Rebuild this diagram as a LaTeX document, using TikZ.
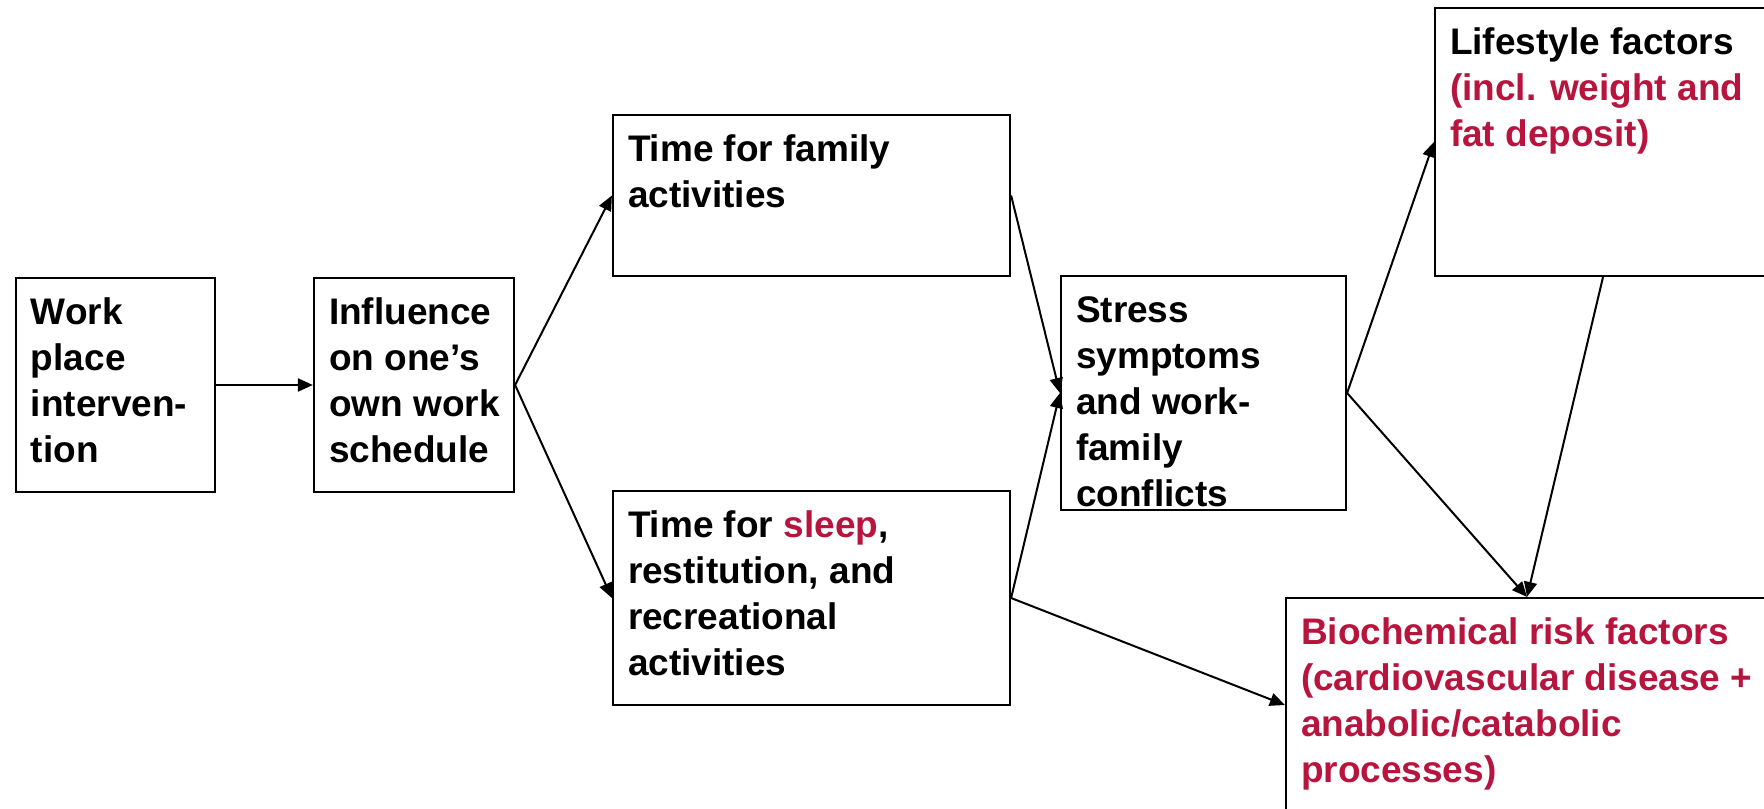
\documentclass[tikz,border=0pt]{standalone}
\usepackage{fontspec}
\setmainfont{Liberation Sans}
\usepackage{xcolor}
\usetikzlibrary{arrows.meta}
\definecolor{crim}{RGB}{183,20,62}
\newcommand{\boxtext}[3]{\parbox[t][#2][t]{#1}{\begin{tabular}[t]{@{}l@{}}#3\end{tabular}}}

\begin{document}
\begin{tikzpicture}[x=0.5pt,y=-0.5pt,>={Triangle[length=7.5pt,width=6.5pt]},
    blk/.style={draw,line width=1.1pt,inner xsep=7.5pt,inner ysep=7pt,
      font=\bfseries\fontsize{18.5}{23}\selectfont},line width=1pt]
  \useasboundingbox (0,0) rectangle (1764,808);
  \node[blk] (work) at (115.5,385) {\boxtext{84.5pt}{93pt}{Work\\place\\interven-\\tion}};
  \node[blk] (sched) at (414,385) {\boxtext{85pt}{93pt}{Influence\\on one’s\\own work\\schedule}};
  \node[blk] (family) at (811.5,195.5) {\boxtext{183.5pt}{66.5pt}{Time for family\\activities}};
  \node[blk] (sleep) at (811.5,598) {\boxtext{183.5pt}{93pt}{Time for \textcolor{crim}{sleep},\\restitution, and\\recreational\\activities}};
  \node[blk] (stress) at (1203.5,393) {\boxtext{127.5pt}{103pt}{Stress\\symptoms\\and work-\\family\\conflicts}};
  \node[blk] (life) at (1603,142) {\boxtext{153pt}{120pt}{Lifestyle factors\\ \color{crim}(incl. weight and\\ \color{crim}fat deposit)}};
  \node[blk,text=crim] (bio) at (1527,705) {\boxtext{226pt}{93pt}{Biochemical risk factors\\(cardiovascular disease +\\anabolic/catabolic\\processes)}};
  % connectors
  \draw[->] (work) -- (sched);
  \draw[->] (sched.east) -- (family.west);
  \draw[->] (sched.east) -- (sleep.west);
  \draw[->] (family.east) -- (stress.west);
  \draw[->] (sleep.east) -- (stress.west);
  \draw[->] (sleep.east) -- (bio.west);
  \draw[->] (stress.east) -- (life.west);
  \draw[->] (stress.east) -- (bio.north);
  \draw[->] (life.south) -- (bio.north);
\end{tikzpicture}
\end{document}
